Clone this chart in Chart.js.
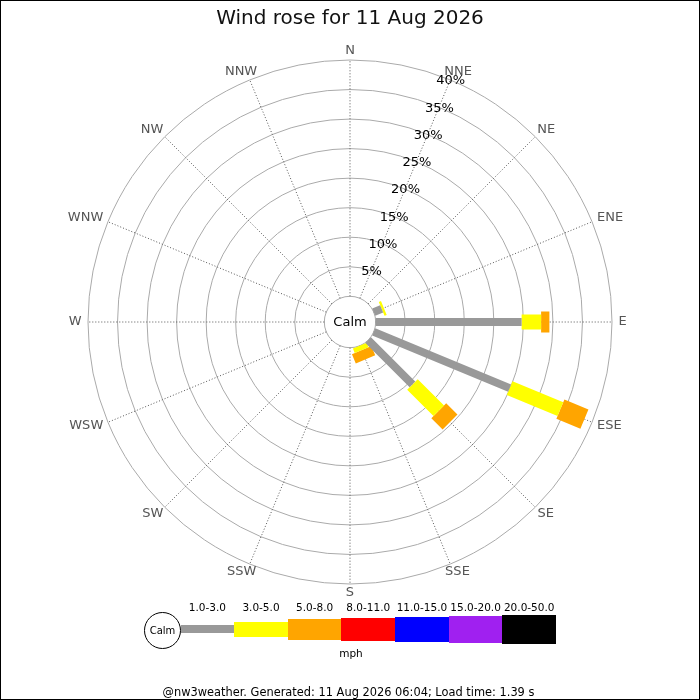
<!DOCTYPE html>
<html>
<head>
<meta charset="utf-8">
<script src="https://cdn.jsdelivr.net/npm/chart.js@4.4.1/dist/chart.umd.min.js"></script>
<style>
    body { margin: 0; background: #fff; font-family: "DejaVu Sans", sans-serif; }
    #wrap { position: relative; width: 700px; height: 700px; }
    #rose { position: absolute; left: 0; top: 0; }
    .frame { position: absolute; left: 0; top: 0; width: 700px; height: 700px; box-sizing: border-box; border: 1px solid #000; pointer-events: none; }
    .title { position: absolute; left: 0; width: 700px; top: 4px; text-align: center; font-size: 20px; color: #111; line-height: 26px; }
    .calmKey { position: absolute; left: 144px; top: 612px; width: 35px; height: 35px; border: 1px solid #000; border-radius: 50%; text-align: center; line-height: 35px; font-size: 10px; background: #fff; }
    .key { position: absolute; }
    .keyLabel { position: absolute; top: 600px; width: 60px; text-align: center; font-size: 10.5px; line-height: 14px; color: #000; }
    .unit { position: absolute; left: 0; width: 702px; top: 646px; text-align: center; font-size: 10.5px; line-height: 14px; }
    .footer { position: absolute; left: 0; width: 697px; top: 685px; text-align: center; font-size: 11.4px; line-height: 14px; color: #000; }
</style>
</head>
<body>
<div id="wrap">
    <canvas id="rose" width="700" height="700"></canvas>
    <div class="title">Wind rose for 11 Aug 2026</div>
    <div id="legend"></div>
    <div class="unit">mph</div>
    <div class="footer">@nw3weather. Generated: 11 Aug 2026 06:04; Load time: 1.39 s</div>
    <div class="frame"></div>
</div>
<script>
// compass points, clockwise from north
const directions = ['N','NNE','NE','ENE','E','ESE','SE','SSE','S','SSW','SW','WSW','W','WNW','NW','NNW'];
const speedBands = ['1.0-3.0','3.0-5.0','5.0-8.0','8.0-11.0','11.0-15.0','15.0-20.0','20.0-50.0'];

// % of time per direction for each speed band
const speed1to3   = [0,0,0,1.45,24.7,24.9,10.6,0,0,0,0,0,0,0,0,0];
const speed3to5   = [0,0,0,0.4,3.3,9.3,6.3,0.8,0,0,0,0,0,0,0,0];
const speed5to8   = [0,0,0,0,1.4,4.4,2.7,1.7,0,0,0,0,0,0,0,0];
const speed8to11  = [0,0,0,0,0,0,0,0,0,0,0,0,0,0,0,0];
const speed11to15 = [0,0,0,0,0,0,0,0,0,0,0,0,0,0,0,0];
const speed15to20 = [0,0,0,0,0,0,0,0,0,0,0,0,0,0,0,0];
const speed20to50 = [0,0,0,0,0,0,0,0,0,0,0,0,0,0,0,0];

const ringTicks = [5,10,15,20,25,30,35,40];

// styles
const bandColors = ['#999999','#ffff00','#ffa500','#ff0000','#0000ff','#a020f0','#000000'];
const bandWidths = [8,15,21,23,25,27,29];
const calmGap = 4.35;   // radius of the calm circle, in % units
const maxPct = 40;

const bandValues = [speed1to3, speed3to5, speed5to8, speed8to11, speed11to15, speed15to20, speed20to50];

function toXY(pct, i){
    const a = i * 22.5 * Math.PI / 180;
    const r = calmGap + pct;
    return {x: r * Math.sin(a), y: r * Math.cos(a)};
}

// stack the bands outward along each direction
const totals = directions.map(() => 0);
const datasets = bandValues.map((vals, b) => {
    const pts = [];
    directions.forEach((d, i) => {
        const start = totals[i];
        const end = start + vals[i];
        totals[i] = end;
        pts.push(toXY(start, i), toXY(end, i), {x: null, y: null});
    });
    return {
        label: speedBands[b],
        data: pts,
        showLine: true,
        borderColor: bandColors[b],
        backgroundColor: bandColors[b],
        borderWidth: bandWidths[b],
        borderCapStyle: 'butt',
        pointRadius: 0,
        pointHoverRadius: 0,
        spanGaps: false,
        fill: false
    };
});

const roseGrid = {
    id: 'roseGrid',
    beforeDatasetsDraw(chart){
        const ctx = chart.ctx;
        const xs = chart.scales.x, ys = chart.scales.y;
        const cx = xs.getPixelForValue(0), cy = ys.getPixelForValue(0);
        const rad = v => xs.getPixelForValue(calmGap + v) - cx;

        ctx.save();
        ctx.strokeStyle = '#aaaaaa';
        ctx.lineWidth = 1;
        [0].concat(ringTicks).forEach(v => {
            ctx.beginPath();
            ctx.arc(cx, cy, rad(v), 0, Math.PI * 2);
            ctx.stroke();
        });

        ctx.strokeStyle = '#555555';
        ctx.setLineDash([1, 2]);
        directions.forEach((d, i) => {
            const a = i * 22.5 * Math.PI / 180;
            const s = Math.sin(a), c = Math.cos(a);
            ctx.beginPath();
            ctx.moveTo(cx + rad(0) * s, cy - rad(0) * c);
            ctx.lineTo(cx + rad(maxPct) * s, cy - rad(maxPct) * c);
            ctx.stroke();
        });
        ctx.setLineDash([]);

        // compass labels just outside the outer ring
        ctx.font = '13px "DejaVu Sans"';
        ctx.fillStyle = '#555555';
        ctx.textAlign = 'center';
        ctx.textBaseline = 'middle';
        directions.forEach((d, i) => {
            const a = i * 22.5 * Math.PI / 180;
            const s = Math.sin(a), c = Math.cos(a);
            const w = ctx.measureText(d).width;
            const rx = rad(maxPct) + 6.5, ry = rad(maxPct) + 9;
            ctx.fillText(d, cx + rx * s + w / 2 * s, cy - ry * c - 0.5);
        });
        ctx.restore();
    },
    afterDatasetsDraw(chart){
        const ctx = chart.ctx;
        const xs = chart.scales.x, ys = chart.scales.y;
        const cx = xs.getPixelForValue(0), cy = ys.getPixelForValue(0);
        const rad = v => xs.getPixelForValue(calmGap + v) - cx;
        const a = 22.5 * Math.PI / 180;

        ctx.save();
        ctx.font = '13px "DejaVu Sans"';
        ctx.fillStyle = '#000';
        ctx.textAlign = 'center';
        ctx.textBaseline = 'middle';
        ringTicks.forEach(v => {
            ctx.fillText(v + '%', cx + rad(v) * Math.sin(a) + 0.5, cy - rad(v) * Math.cos(a) + 1);
        });
        ctx.fillText('Calm', cx, cy + 1);
        ctx.restore();
    }
};

new Chart(document.getElementById('rose'), {
    type: 'scatter',
    data: { datasets: datasets },
    options: {
        responsive: false,
        animation: false,
        events: [],
        layout: { padding: { left: 88, right: 88, top: 60, bottom: 116 } },
        scales: {
            x: { type: 'linear', display: false, min: -(calmGap + maxPct), max: calmGap + maxPct },
            y: { type: 'linear', display: false, min: -(calmGap + maxPct), max: calmGap + maxPct }
        },
        plugins: {
            legend: { display: false },
            tooltip: { enabled: false }
        }
    },
    plugins: [roseGrid]
});

// speed key under the chart
const legend = document.getElementById('legend');
legend.innerHTML = '<div class="calmKey">Calm</div>';
const keyLeft = 180.5, keyStep = 53.65, keyMid = 629;
speedBands.forEach((b, i) => {
    const left = keyLeft + i * keyStep;
    const h = bandWidths[i];
    legend.innerHTML += `<div class="key" style="left:${left}px;top:${keyMid - h / 2}px;width:${keyStep}px;height:${h}px;background:${bandColors[i]}"></div>`;
    legend.innerHTML += `<div class="keyLabel" style="left:${left + keyStep / 2 - 30}px">${b}</div>`;
});
</script>
</body>
</html>
